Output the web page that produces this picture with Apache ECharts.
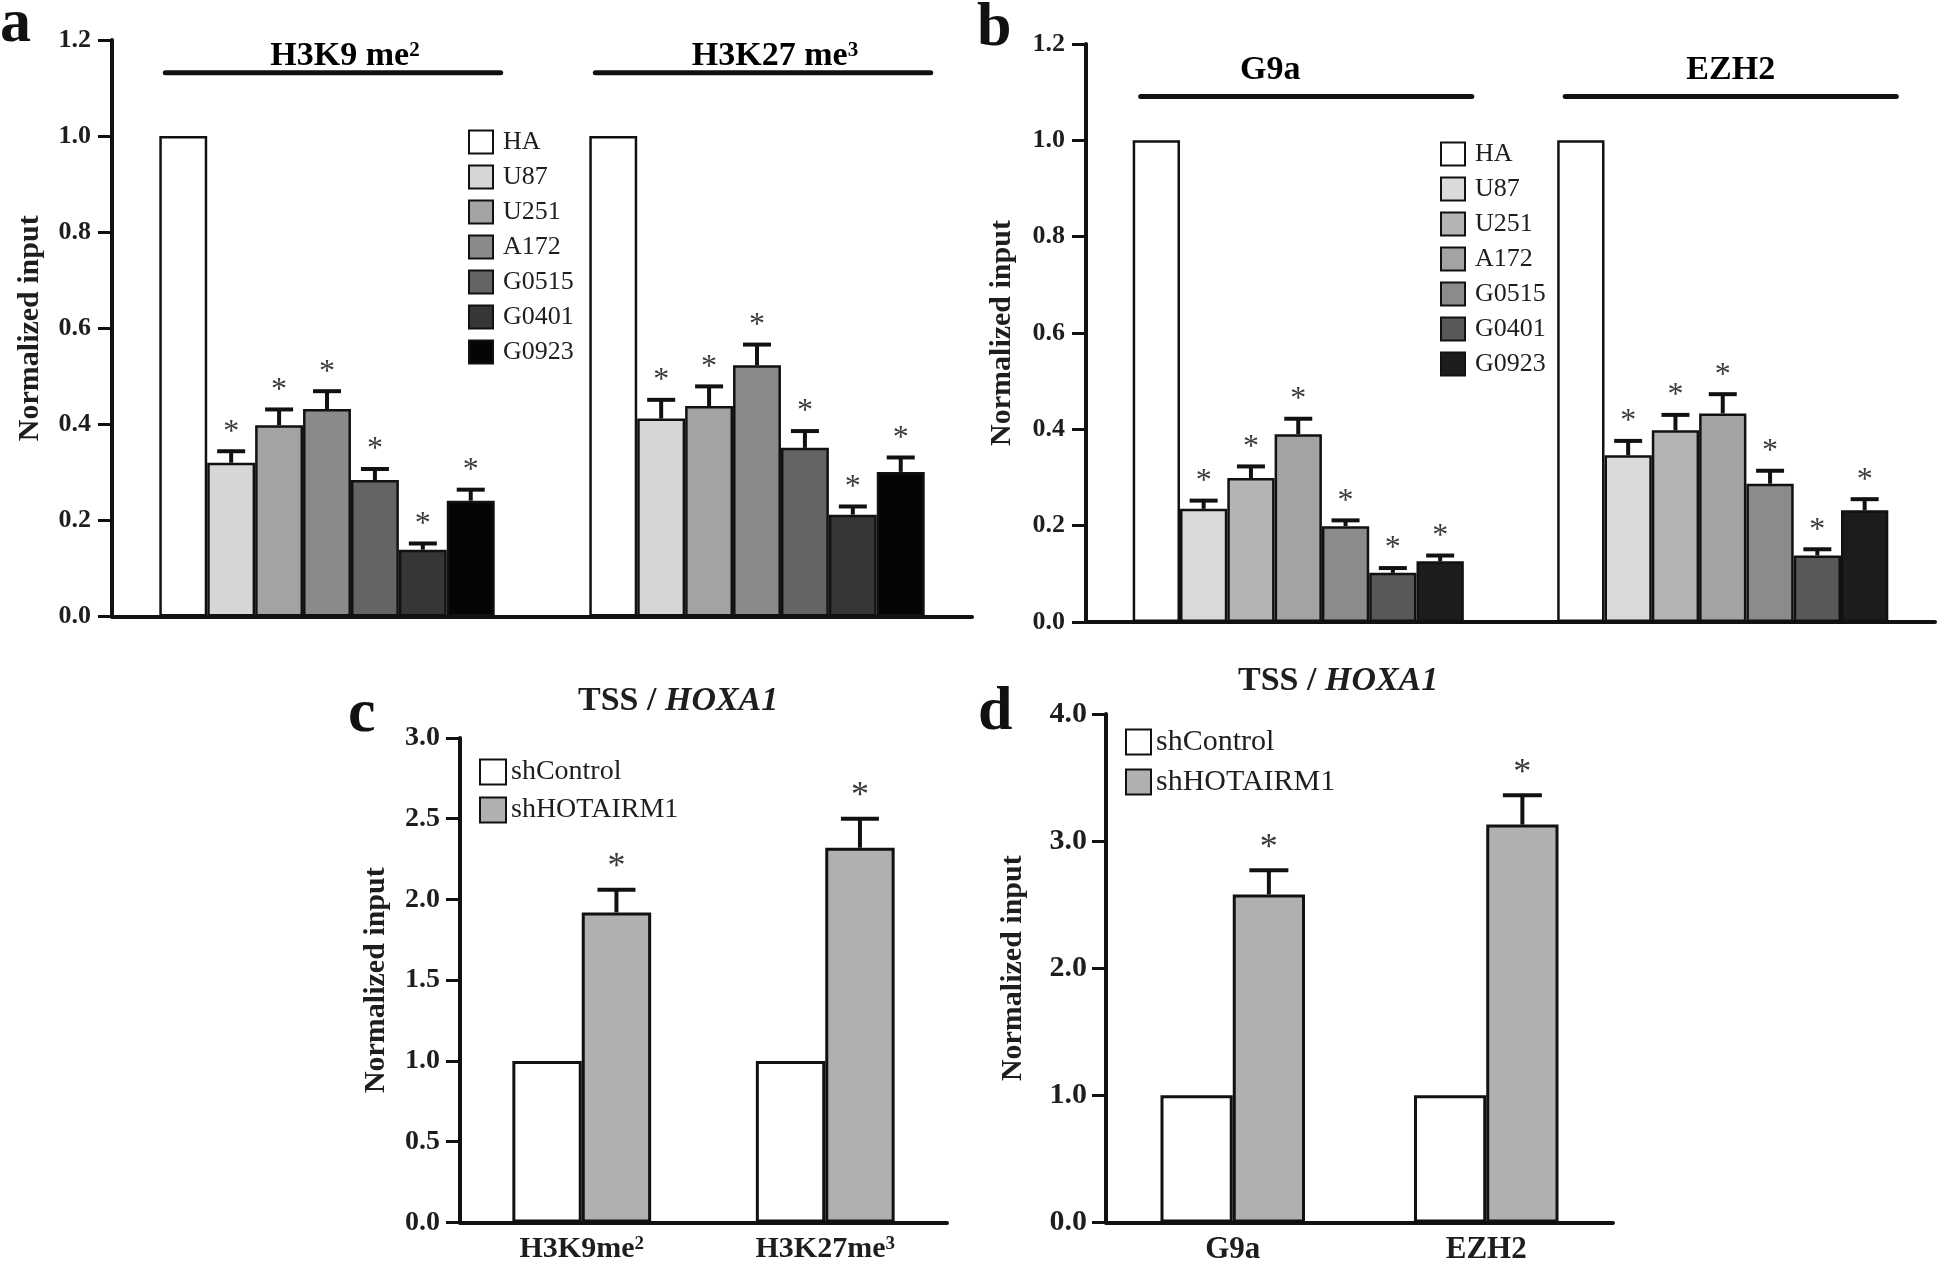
<!DOCTYPE html>
<html><head><meta charset="utf-8">
<script src="https://cdn.jsdelivr.net/npm/echarts@6/dist/echarts.min.js"></script>
<style>html,body{margin:0;padding:0;background:#fff}#chart{width:1946px;height:1269px}</style>
</head><body><div id="chart"></div>
<script>
const SERIF = "'Liberation Serif', 'Times New Roman', serif";

// ---------- data ----------
const cellLines = ['HA', 'U87', 'U251', 'A172', 'G0515', 'G0401', 'G0923'];

// panel a (values per cell line, for each group)
const aGroups = ['H3K9 me²', 'H3K27 me³'];
const aH3K9 = [1.000, 0.320, 0.398, 0.432, 0.284, 0.139, 0.241];
const aH3K9Err = [0, 0.024, 0.033, 0.037, 0.023, 0.013, 0.023];
const aH3K27 = [1.000, 0.412, 0.438, 0.523, 0.351, 0.212, 0.301];
const aH3K27Err = [0, 0.039, 0.041, 0.043, 0.035, 0.017, 0.030];

// panel b
const bGroups = ['G9a', 'EZH2'];
const bG9a = [1.000, 0.235, 0.299, 0.390, 0.199, 0.102, 0.126];
const bG9aErr = [0, 0.017, 0.024, 0.032, 0.012, 0.010, 0.012];
const bEZH2 = [1.000, 0.346, 0.398, 0.433, 0.287, 0.138, 0.232];
const bEZH2Err = [0, 0.030, 0.032, 0.040, 0.027, 0.013, 0.023];

// panel c (values per category)
const cCats = ['H3K9me²', 'H3K27me³'];
const cControl = [1.0, 1.0];
const cKnock = [1.92, 2.32];
const cKnockErr = [0.14, 0.18];

// panel d
const dCats = ['G9a', 'EZH2'];
const dControl = [1.0, 1.0];
const dKnock = [2.58, 3.13];
const dKnockErr = [0.19, 0.23];

const shNames = ['shControl', 'shHOTAIRM1'];
const aTicks = { min: 0, max: 1.2, interval: 0.2 };
const cTicks = { min: 0, max: 3.0, interval: 0.5 };
const dTicks = { min: 0, max: 4.0, interval: 1.0 };

// ---------- styles ----------
const aColors = ['#ffffff', '#d6d6d6', '#a3a3a3', '#8a8a8a', '#646464', '#363636', '#050505'];
const bColors = ['#ffffff', '#dadada', '#b4b4b4', '#a3a3a3', '#8b8b8b', '#585858', '#1c1c1c'];
const shColors = ['#ffffff', '#b0b0b0'];
const INK = '#111';
const TXT = '#1e1e1e';

const chart = echarts.init(document.getElementById('chart'));

// turn "me²" into rich text with a real superscript digit
function supRich(str) {
  const m = str.match(/^([^²³]*)([²³])$/);
  if (!m) return '{t|' + str + '}';
  return '{t|' + m[1] + '}{s|' + (m[2] === '²' ? '2' : '3') + '}';
}
function richSup(size) {
  return {
    t: { fontFamily: SERIF, fontWeight: 'bold', fontSize: size, color: TXT },
    s: { fontFamily: SERIF, fontWeight: 'bold', fontSize: Math.round(size * 0.62), color: TXT, verticalAlign: 'top' }
  };
}

function yAxisDef(gi, t, fontSize, labelMargin, nameGap, nameSize) {
  return {
    type: 'value', gridIndex: gi, min: t.min, max: t.max, interval: t.interval,
    axisLine: { show: true, lineStyle: { color: INK, width: 4 } },
    axisTick: { show: true, length: 14, lineStyle: { color: INK, width: 3 } },
    splitLine: { show: false },
    axisLabel: { margin: labelMargin, fontFamily: SERIF, fontWeight: 'bold', fontSize: fontSize, color: TXT,
      formatter: v => v.toFixed(1) },
    name: 'Normalized input', nameLocation: 'middle', nameGap: nameGap,
    nameTextStyle: { fontFamily: SERIF, fontWeight: 'bold', fontSize: nameSize, color: TXT }
  };
}
function xAxisDef(gi, cats, showLabels, fontSize) {
  return {
    type: 'category', gridIndex: gi, data: cats,
    axisLine: { show: true, onZero: false, lineStyle: { color: INK, width: 4 } },
    axisTick: { show: false },
    axisLabel: { show: showLabels, margin: 12, formatter: v => supRich(v), rich: richSup(fontSize) },
    splitLine: { show: false }
  };
}

const series = [];
// seriesVals[i] = values of series i across the categories
function addBars(gi, names, seriesVals, colors, gap, bw) {
  names.forEach((nm, i) => {
    series.push({
      type: 'bar', name: nm, xAxisIndex: gi, yAxisIndex: gi,
      data: seriesVals[i],
      barGap: '0%', barCategoryGap: gap,
      itemStyle: { color: colors[i], borderColor: INK, borderWidth: bw },
      silent: true, z: 2
    });
  });
}
function addErrors(gi, seriesVals, seriesErrs, gapFrac, capW, lw, starSize, starOff) {
  const n = seriesVals.length;
  const data = [];
  seriesVals.forEach((vals, i) => {
    vals.forEach((v, g) => { if (seriesErrs[i][g] > 0) data.push([g, i, v, seriesErrs[i][g]]); });
  });
  series.push({
    type: 'custom', xAxisIndex: gi, yAxisIndex: gi, data: data, encode: { x: 0, y: 2 },
    silent: true, z: 5, clip: false,
    renderItem: (params, api) => {
      const g = api.value(0), i = api.value(1), v = api.value(2), e = api.value(3);
      const band = api.size([1, 0])[0];
      const gw = band * (1 - gapFrac);
      const bwid = gw / n;
      const cx = api.coord([g, 0])[0] - gw / 2 + bwid * (i + 0.5);
      const yBar = api.coord([g, v])[1];
      const yTop = api.coord([g, v + e])[1];
      return { type: 'group', children: [
        { type: 'line', shape: { x1: cx, y1: yBar, x2: cx, y2: yTop }, style: { stroke: INK, lineWidth: lw } },
        { type: 'line', shape: { x1: cx - capW / 2, y1: yTop, x2: cx + capW / 2, y2: yTop }, style: { stroke: INK, lineWidth: lw } },
        { type: 'text', x: cx, y: yTop - starOff, style: { text: '*', fontFamily: SERIF, fontSize: starSize, fill: '#3a3a3a', align: 'center', verticalAlign: 'middle' } }
      ] };
    }
  });
}
function addHeaders(gi, labels, lineVal, gapFrac, lineShift, textShifts, fontSize, textGap) {
  series.push({
    type: 'custom', xAxisIndex: gi, yAxisIndex: gi, data: labels.map((l, k) => [k, lineVal]),
    encode: { x: 0, y: 1 }, silent: true, z: 5, clip: false,
    renderItem: (params, api) => {
      const k = api.value(0);
      const band = api.size([1, 0])[0];
      const half = band * (1 - gapFrac) / 2;
      const p = api.coord([k, api.value(1)]);
      const cx = p[0] + lineShift;
      return { type: 'group', children: [
        { type: 'line', shape: { x1: cx - half, y1: p[1], x2: cx + half, y2: p[1] }, style: { stroke: INK, lineWidth: 5, lineCap: 'round' } },
        { type: 'text', x: cx + textShifts[k], y: p[1] - textGap,
          style: { text: supRich(labels[k]), rich: richSup(fontSize), align: 'center', verticalAlign: 'bottom' } }
      ] };
    }
  });
}

// panel a (grid 0)
const aSeries = cellLines.map((_, i) => [aH3K9[i], aH3K27[i]]);
const aSeriesErr = cellLines.map((_, i) => [aH3K9Err[i], aH3K27Err[i]]);
addBars(0, cellLines, aSeries, aColors, '22%', 2.5);
addErrors(0, aSeries, aSeriesErr, 0.22, 28, 4, 32, 19);
addHeaders(0, aGroups, 1.132, 0.22, 6, [12, 12], 34, -1);

// panel b (grid 1)
const bNames = cellLines.map(n => 'b:' + n);
const bSeries = cellLines.map((_, i) => [bG9a[i], bEZH2[i]]);
const bSeriesErr = cellLines.map((_, i) => [bG9aErr[i], bEZH2Err[i]]);
addBars(1, bNames, bSeries, bColors, '22%', 2.5);
addErrors(1, bSeries, bSeriesErr, 0.22, 28, 4, 32, 19);
addHeaders(1, bGroups, 1.091, 0.22, 8, [-36, 0], 34, 9);

// panel c (grid 2)
const cNames = shNames.map(n => 'c:' + n);
addBars(2, cNames, [cControl, cKnock], shColors, '43%', 3);
addErrors(2, [cControl, cKnock], [[0, 0], cKnockErr], 0.43, 38, 4, 36, 22);

// panel d (grid 3)
const dNames = shNames.map(n => 'd:' + n);
addBars(3, dNames, [dControl, dKnock], shColors, '43%', 3);
addErrors(3, [dControl, dKnock], [[0, 0], dKnockErr], 0.43, 39, 4, 36, 22);

const legendBase = (data, left, top, size, iw, ih, gap, pad) => ({
  data: data, left: left, top: top, orient: 'vertical', padding: 0, icon: 'rect',
  itemWidth: iw, itemHeight: ih, itemGap: gap, selectedMode: false,
  itemStyle: { borderColor: INK, borderWidth: 2 },
  formatter: name => name.replace(/^[a-d]:/, ''),
  textStyle: { fontFamily: SERIF, fontSize: size, color: TXT, padding: [0, 0, 0, pad] }
});

const titleStyle = { fontFamily: SERIF, fontWeight: 'bold', fontSize: 62, color: INK };
const tssRich = {
  n: { fontFamily: SERIF, fontWeight: 'bold', fontSize: 34, color: TXT },
  i: { fontFamily: SERIF, fontWeight: 'bold', fontStyle: 'italic', fontSize: 34, color: TXT }
};

chart.setOption({
  animation: false,
  backgroundColor: '#ffffff',
  title: [
    { text: 'a', left: 0, top: -6, padding: 0, textStyle: titleStyle },
    { text: 'b', left: 977, top: -2, padding: 0, textStyle: titleStyle },
    { text: 'c', left: 348, top: 684, padding: 0, textStyle: titleStyle },
    { text: 'd', left: 978, top: 682, padding: 0, textStyle: titleStyle },
    { text: '{n|TSS / }{i|HOXA1}', left: 578, top: 684, padding: 0, textStyle: { rich: tssRich } },
    { text: '{n|TSS / }{i|HOXA1}', left: 1238, top: 664, padding: 0, textStyle: { rich: tssRich } }
  ],
  legend: [
    legendBase(cellLines, 468, 129, 26, 24, 23, 9, 5),
    legendBase(bNames, 1440, 141, 26, 24, 23, 9, 5),
    legendBase(cNames, 479, 758, 28, 26, 25, 10, 0),
    legendBase(dNames, 1125, 727, 30, 25, 25, 10, 0)
  ],
  grid: [
    { left: 112, top: 40, width: 860, height: 576.5 },
    { left: 1086, top: 44, width: 849, height: 578 },
    { left: 460, top: 738, width: 487, height: 484.4 },
    { left: 1106, top: 714, width: 507, height: 508.4 }
  ],
  xAxis: [
    xAxisDef(0, aGroups, false, 26),
    xAxisDef(1, bGroups, false, 26),
    xAxisDef(2, cCats, true, 30),
    xAxisDef(3, dCats, true, 31)
  ],
  yAxis: [
    yAxisDef(0, aTicks, 26, 21, 67, 30),
    yAxisDef(1, aTicks, 26, 21, 69, 30),
    yAxisDef(2, cTicks, 28, 20, 69, 30),
    yAxisDef(3, dTicks, 30, 19, 78, 30)
  ],
  series: series
});
</script>
</body></html>
